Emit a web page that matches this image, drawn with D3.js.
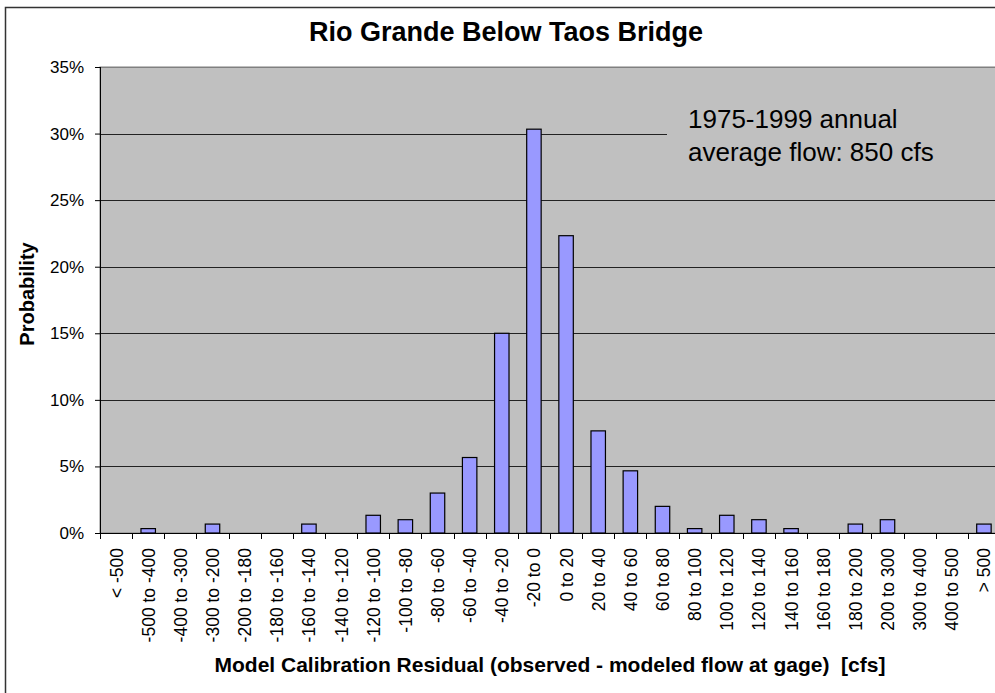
<!DOCTYPE html>
<html>
<head>
<meta charset="utf-8">
<script src="https://cdn.jsdelivr.net/npm/d3@7"></script>
<style>
  body { margin: 0; background: #fff; }
  svg { display: block; font-family: Arial, "Liberation Sans", sans-serif; }
</style>
</head>
<body>
<svg id="chart" width="995" height="693"></svg>
<script>
const categories = [
  '< -500', '-500 to -400', '-400 to -300', '-300 to -200', '-200 to -180',
  '-180 to -160', '-160 to -140', '-140 to -120', '-120 to -100', '-100 to -80',
  '-80 to -60', '-60 to -40', '-40 to -20', '-20 to 0', '0 to 20', '20 to 40',
  '40 to 60', '60 to 80', '80 to 100', '100 to 120', '120 to 140', '140 to 160',
  '160 to 180', '180 to 200', '200 to 300', '300 to 400', '400 to 500', '> 500'
];
// probability in percent
const probability = [
  0, 0.33, 0, 0.67, 0, 0, 0.67, 0, 1.33, 1.0,
  3.0, 5.67, 15.0, 30.33, 22.33, 7.67, 4.67, 2.0, 0.33, 1.33,
  1.0, 0.33, 0, 0.67, 1.0, 0, 0, 0.67
];
const yTicks = [0, 5, 10, 15, 20, 25, 30, 35];

const svg = d3.select('#chart');
const margin = { top: 67, left: 100 };
const plotW = 900, plotH = 466;

// outer chart border
svg.append('rect')
  .attr('x', 5.5).attr('y', 7.5)
  .attr('width', 1000).attr('height', 700)
  .attr('fill', '#fff')
  .attr('stroke', '#333')
  .attr('stroke-width', 1.5);

const g = svg.append('g')
  .attr('transform', `translate(${margin.left}, ${margin.top})`);

const x = d3.scaleBand().domain(categories).range([0, plotW]).padding(0);
const y = d3.scaleLinear().domain([0, 35]).range([plotH, 0]);

// plot background
g.append('rect')
  .attr('width', plotW).attr('height', plotH)
  .attr('fill', '#c0c0c0')
  .attr('stroke', '#808080');

// gridlines
g.selectAll('.grid')
  .data(yTicks.slice(1))
  .join('line')
  .attr('class', 'grid')
  .attr('x1', 0).attr('x2', plotW)
  .attr('y1', d => Math.round(y(d)) + 0.5)
  .attr('y2', d => Math.round(y(d)) + 0.5)
  .attr('stroke', d => d === 35 ? '#808080' : '#222')
  .attr('stroke-width', 1);

// annotation box (hides gridline behind text)
g.append('rect')
  .attr('x', 567).attr('y', 36)
  .attr('width', 340).attr('height', 76)
  .attr('fill', '#c0c0c0');

const ann = g.append('text')
  .attr('x', 588).attr('y', 61)
  .attr('font-size', '26px')
  .attr('fill', '#000');
ann.append('tspan').attr('x', 588).attr('dy', 0).text('1975-1999 annual');
ann.append('tspan').attr('x', 588).attr('dy', 33).text('average flow: 850 cfs');

// bars
const barW = x.bandwidth() * 0.45;
g.selectAll('.bar')
  .data(categories.map((c, i) => ({ c, v: probability[i] })).filter(d => d.v > 0))
  .join('rect')
  .attr('class', 'bar')
  .attr('x', d => x(d.c) + (x.bandwidth() - barW) / 2)
  .attr('y', d => y(d.v))
  .attr('width', barW)
  .attr('height', d => y(0) - y(d.v))
  .attr('fill', '#9999ff')
  .attr('stroke', '#000')
  .attr('stroke-width', 1.2);

// y axis
const yAxis = g.append('g')
  .call(d3.axisLeft(y).tickValues(yTicks).tickSize(5).tickFormat(d => d + '%'));
yAxis.select('.domain').attr('stroke', '#000').attr('d', `M0.5,0V${plotH}`);
yAxis.selectAll('.tick line').attr('stroke', '#000');
yAxis.selectAll('.tick text')
  .attr('x', -16)
  .attr('font-size', '17px')
  .attr('font-family', 'Arial, "Liberation Sans", sans-serif')
  .attr('fill', '#000');

// x axis: ticks at band boundaries
const xg = g.append('g').attr('transform', `translate(0, ${plotH})`);
xg.append('line')
  .attr('x1', 0).attr('x2', plotW)
  .attr('y1', 0.5).attr('y2', 0.5)
  .attr('stroke', '#000');
xg.selectAll('.xtick')
  .data(d3.range(categories.length + 1))
  .join('line')
  .attr('class', 'xtick')
  .attr('x1', i => Math.round(i * x.step()) + 0.5)
  .attr('x2', i => Math.round(i * x.step()) + 0.5)
  .attr('y1', 0).attr('y2', 6)
  .attr('stroke', '#000');
xg.selectAll('.xlabel')
  .data(categories)
  .join('text')
  .attr('class', 'xlabel')
  .attr('transform', d => `translate(${x(d) + x.bandwidth() / 2 + 6.5}, 15) rotate(-90)`)
  .attr('text-anchor', 'end')
  .attr('font-size', '17.5px')
  .attr('fill', '#000')
  .text(d => d);

// title
svg.append('text')
  .attr('x', 506).attr('y', 41)
  .attr('text-anchor', 'middle')
  .attr('font-size', '27px')
  .attr('font-weight', 'bold')
  .text('Rio Grande Below Taos Bridge');

// axis titles
svg.append('text')
  .attr('transform', 'translate(34, 294) rotate(-90)')
  .attr('text-anchor', 'middle')
  .attr('font-size', '20px')
  .attr('font-weight', 'bold')
  .text('Probability');

svg.append('text')
  .attr('x', 550).attr('y', 672)
  .attr('text-anchor', 'middle')
  .attr('font-size', '21px')
  .attr('font-weight', 'bold')
  .attr('xml:space', 'preserve')
  .style('white-space', 'pre')
  .text('Model Calibration Residual (observed - modeled flow at gage)  [cfs]');
</script>
</body>
</html>
